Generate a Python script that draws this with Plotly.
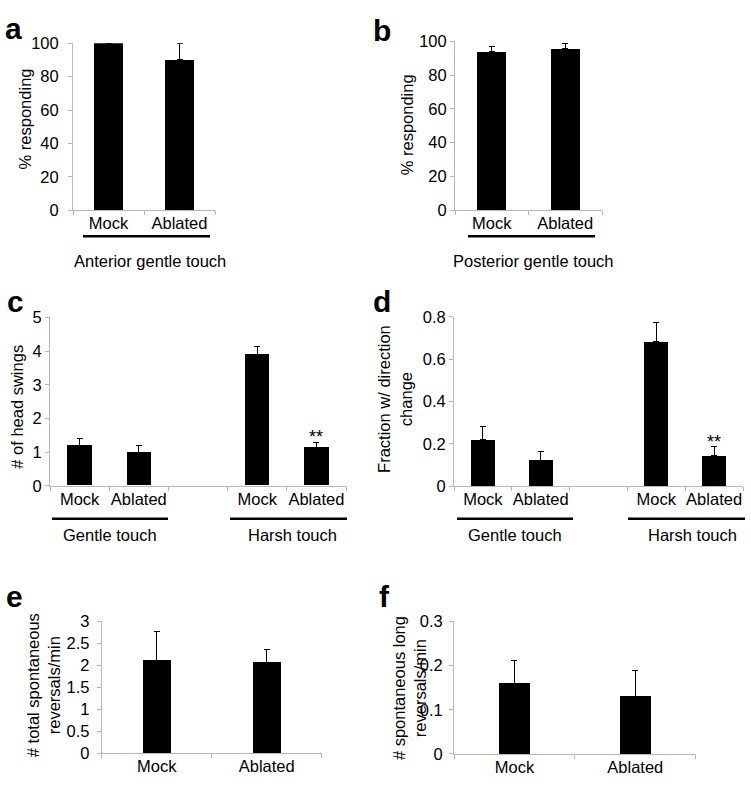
import plotly.graph_objects as go

W, H = 751, 788
FONT = "Liberation Sans, Arial, sans-serif"
GRAY = "#b8b8b8"

# ---------------- data ----------------
a_labels = ["Mock", "Ablated"]
a_vals = [100, 90]
a_err = [0, 10]

b_labels = ["Mock", "Ablated"]
b_vals = [93.7, 95.5]
b_err = [3.0, 3.2]

c_labels = ["Mock", "Ablated", "", "Mock", "Ablated"]
c_vals = [1.2, 1.0, None, 3.91, 1.13]
c_err = [0.21, 0.2, 0, 0.24, 0.16]

d_labels = ["Mock", "Ablated", "", "Mock", "Ablated"]
d_vals = [0.22, 0.123, None, 0.681, 0.143]
d_err = [0.061, 0.043, 0, 0.091, 0.042]

e_labels = ["Mock", "Ablated"]
e_vals = [2.11, 2.06]
e_err = [0.67, 0.30]

f_labels = ["Mock", "Ablated"]
f_vals = [0.16, 0.13]
f_err = [0.051, 0.059]

def px(x):
    return x / W

def py(y):
    return 1 - y / H

fig = go.Figure()

# panel definitions:
# (key, labels, vals, errs, x0, x1, ytop, ybot, ymax, dtick, barwidth, ystandoff)
panels = [
    ("", a_labels, a_vals, a_err, 73, 215, 35, 206, 100, 20, 0.42, 6),
    ("2", b_labels, b_vals, b_err, 455, 602, 33, 206, 100, 20, 0.40, 0),
    ("3", c_labels, c_vals, c_err, 50, 346, 315.7, 488, 5, 1, 0.41, 0),
    ("4", d_labels, d_vals, d_err, 454, 743, 315, 488.3, 0.8, 0.2, 0.41, 0),
    ("5", e_labels, e_vals, e_err, 101.7, 321.7, 626.7, 761.7, 3, 0.5, 0.26, 4),
    ("6", f_labels, f_vals, f_err, 454, 695.7, 626.7, 762.3, 0.3, 0.1, 0.26, 3),
]

for key, labels, vals, errs, x0, x1, yt, yb, ymax, dtick, bw, so in panels:
    n = len(labels)
    xs = list(range(n))
    bx = [x for x, v in zip(xs, vals) if v is not None]
    bv = [v for v in vals if v is not None]
    be = [e for e, v in zip(errs, vals) if v is not None]
    fig.add_trace(go.Bar(
        x=bx, y=bv, width=bw,
        marker=dict(color="black", line=dict(width=0)),
        error_y=dict(type="data", symmetric=False, array=be,
                     arrayminus=[0] * len(be), color="black",
                     thickness=1, width=3),
        xaxis="x" + key, yaxis="y" + key, showlegend=False,
    ))
    tv = [x for x, l in zip(xs, labels) if l]
    tt = [l for l in labels if l]
    fig.layout["xaxis" + key] = dict(
        domain=[px(x0), px(x1)], anchor="y" + key,
        range=[-0.5, n - 0.5], tickmode="array", tickvals=tv, ticktext=tt,
        ticks="", showline=True, linecolor=GRAY, linewidth=1,
        showgrid=False, zeroline=False, fixedrange=True,
        tickfont=dict(family=FONT, size=16.5, color="black"),
        ticklabelstandoff=-2,
        minor=dict(ticks="outside", tickmode="linear", tick0=-0.5, dtick=1,
                   ticklen=4, tickcolor=GRAY, tickwidth=1, showgrid=False),
    )
    fig.layout["yaxis" + key] = dict(
        domain=[py(yb), py(yt)], anchor="x" + key,
        range=[0, ymax], dtick=dtick, tick0=0,
        ticks="outside", ticklen=4, tickcolor=GRAY, tickwidth=1,
        showline=True, linecolor=GRAY, linewidth=1,
        showgrid=False, zeroline=False, fixedrange=True,
        tickfont=dict(family=FONT, size=16.5, color="black"),
        ticklabelstandoff=so,
    )

annotations = []

def ann(text, x, y, size=16, bold=False, angle=0):
    t = "<b>%s</b>" % text if bold else text
    annotations.append(dict(
        text=t, x=px(x), y=py(y), xref="paper", yref="paper",
        xanchor="center", yanchor="middle", showarrow=False,
        textangle=angle, font=dict(family=FONT, size=size, color="black"),
    ))

# panel letters
ann("a", 13.5, 19.5, 30, True)
ann("b", 382, 21.5, 30, True)
ann("c", 15, 299.5, 30, True)
ann("d", 382, 299.5, 30, True)
ann("e", 14, 601.5, 30, True)
ann("f", 384, 601.5, 30, True)

# y-axis titles
ann("% responding", 25, 113, 16.5, angle=-90)
ann("% responding", 407, 119, 16.5, angle=-90)
ann("# of head swings", 17, 407, 16.5, angle=-90)
ann("Fraction w/ direction<br>change", 395, 399, 16.5, angle=-90)
ann("# total spontaneous<br>reversals/min", 43, 692, 16.5, angle=-90)
ann("# spontaneous long<br>reversals/min", 409, 695, 16.5, angle=-90)

# group labels
ann("Anterior gentle touch", 150, 258, 16.5)
ann("Posterior gentle touch", 533, 258, 16.5)
ann("Gentle touch", 110, 538, 16.5)
ann("Harsh touch", 292, 538, 16.5)
ann("Gentle touch", 515, 538, 16.5)
ann("Harsh touch", 692.5, 538, 16.5)

# significance stars (data coordinates)
annotations.append(dict(text="**", x=4, y=1.45, xref="x3", yref="y3",
                        xanchor="center", yanchor="middle", showarrow=False,
                        font=dict(family=FONT, size=18, color="black")))
annotations.append(dict(text="**", x=4, y=0.21, xref="x4", yref="y4",
                        xanchor="center", yanchor="middle", showarrow=False,
                        font=dict(family=FONT, size=18, color="black")))

# underlines
shapes = []
for x0, x1, y in [(83, 210, 232.5), (468, 595, 232.5),
                  (52, 168, 521.7), (230, 347, 521.7),
                  (457, 573, 521.7), (628, 745, 521.7)]:
    shapes.append(dict(type="line", xref="paper", yref="paper",
                       x0=px(x0), x1=px(x1), y0=py(y), y1=py(y),
                       line=dict(color="black", width=2.5)))

fig.update_layout(
    width=W, height=H, margin=dict(l=0, r=0, t=0, b=0),
    paper_bgcolor="white", plot_bgcolor="white",
    annotations=annotations, shapes=shapes, bargap=0,
    font=dict(family=FONT, color="black"),
)

post = (
    "document.documentElement.style.margin='0';"
    "document.documentElement.style.padding='0';"
    "document.documentElement.style.overflow='hidden';"
    "document.body.style.margin='0';"
    "document.body.style.padding='0';"
    "document.body.style.overflow='hidden';"
    "document.body.style.height='788px';"
    "var gd=document.getElementById('{plot_id}');"
    "gd.style.position='fixed';gd.style.top='0px';gd.style.left='0px';"
)

fig.write_html("out.html", post_script=post,
               config={"displayModeBar": False})
